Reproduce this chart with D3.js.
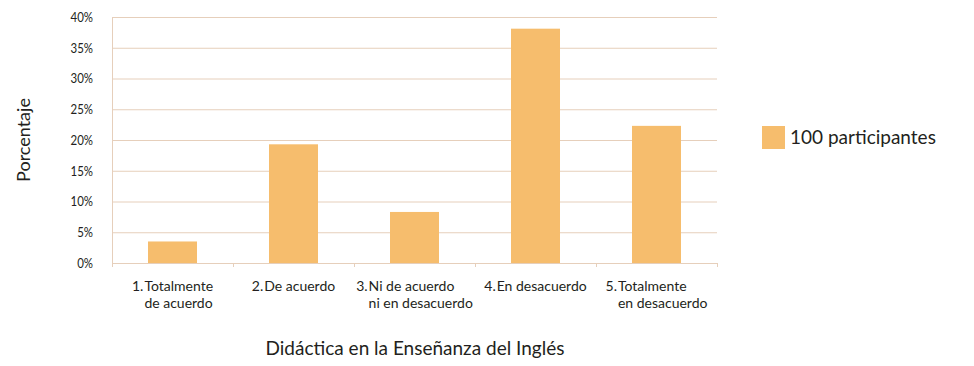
<!DOCTYPE html>
<html>
<head>
<meta charset="utf-8">
<script src="https://cdn.jsdelivr.net/npm/d3@7"></script>
<style>
  body { margin: 0; background: #fff; }
  text { font-family: Lato, "Open Sans", sans-serif; fill: #231f20; }
</style>
</head>
<body>
<svg id="chart" width="974" height="366"></svg>
<script>
// categories: number + text lines
var catNums = ["1.", "2.", "3.", "4.", "5."];
var catLines = [
  ["Totalmente", "de acuerdo"],
  ["De acuerdo"],
  ["Ni de acuerdo", "ni en desacuerdo"],
  ["En desacuerdo"],
  ["Totalmente", "en desacuerdo"]
];
var values = [3.5, 19.3, 8.3, 38.1, 22.3];
var yTicks = [0, 5, 10, 15, 20, 25, 30, 35, 40];
var seriesName = "100 participantes";
var xTitle = "Didáctica en la Enseñanza del Inglés";
var yTitle = "Porcentaje";

var svg = d3.select("#chart");
var plotLeft = 112, plotRight = 717, plotTop = 17, plotBottom = 263;
var barColor = "#f6bd6d", gridColor = "#e6cfbb";

var x = d3.scaleBand().domain(d3.range(values.length)).range([plotLeft, plotRight]);
var y = d3.scaleLinear().domain([0, 40]).range([plotBottom, plotTop]);

// grid lines
svg.append("g").selectAll("line").data(yTicks).join("line")
  .attr("x1", plotLeft).attr("x2", plotRight)
  .attr("y1", function(d){ return y(d) + 0.5; }).attr("y2", function(d){ return y(d) + 0.5; })
  .attr("stroke", gridColor).attr("stroke-width", 1);

// y axis line
svg.append("line").attr("x1", plotLeft + 0.5).attr("x2", plotLeft + 0.5)
  .attr("y1", plotTop).attr("y2", plotBottom + 4)
  .attr("stroke", gridColor);

// bottom ticks at category boundaries
var bounds = d3.range(values.length + 1).map(function(i){ return plotLeft + i * x.bandwidth(); });
svg.append("g").selectAll("line").data(bounds).join("line")
  .attr("x1", function(d){ return d + 0.5; }).attr("x2", function(d){ return d + 0.5; })
  .attr("y1", plotBottom).attr("y2", plotBottom + 4)
  .attr("stroke", gridColor);

// y tick labels (condensed look)
svg.append("g").selectAll("text").data(yTicks).join("text")
  .attr("transform", function(d){ return "translate(93," + y(d) + ") scale(0.85,1)"; })
  .attr("dy", "0.36em").attr("text-anchor", "end")
  .attr("font-size", 13.5)
  .text(function(d){ return d + "%"; });

// bars
var barW = 49;
svg.append("g").selectAll("rect").data(values).join("rect")
  .attr("x", function(d, i){ return x(i) + x.bandwidth() / 2 - barW / 2; })
  .attr("width", barW)
  .attr("y", function(d){ return y(d); })
  .attr("height", function(d){ return plotBottom - y(d); })
  .attr("fill", barColor);

// category labels: block (number + hanging lines) centred on the widest line
catLines.forEach(function(lines, i) {
  var cx = x(i) + x.bandwidth() / 2;
  var g = svg.append("g");
  var num = g.append("text").attr("font-size", 14).attr("y", 291).text(catNums[i]);
  var nw = num.node().getComputedTextLength() + 1;
  var rows = lines.map(function(t, k) {
    return g.append("text").attr("font-size", 14).attr("y", 291 + 17 * k).text(t);
  });
  var maxW = d3.max(rows, function(r){ return r.node().getComputedTextLength(); });
  var x0 = cx - (nw + maxW) / 2;
  num.attr("x", x0);
  rows.forEach(function(r){ r.attr("x", x0 + nw); });
});

// axis titles
svg.append("text").attr("x", 415).attr("y", 355).attr("text-anchor", "middle")
  .attr("font-size", 19).text(xTitle);
svg.append("text").attr("transform", "translate(30,140) rotate(-90)").attr("text-anchor", "middle")
  .attr("font-size", 18).text(yTitle);

// legend
svg.append("rect").attr("x", 762).attr("y", 126).attr("width", 23).attr("height", 23).attr("fill", barColor);
svg.append("text").attr("x", 790).attr("y", 144).attr("font-size", 19).text(seriesName);
</script>
</body>
</html>
